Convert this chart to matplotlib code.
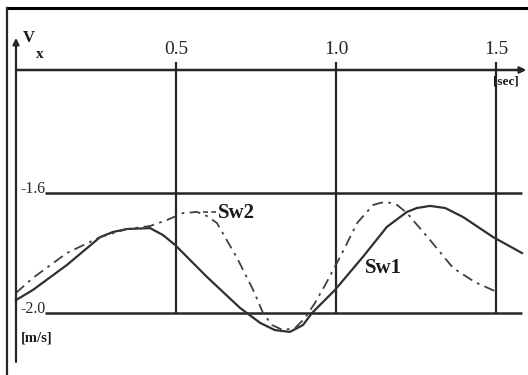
import matplotlib
matplotlib.use("Agg")
import matplotlib.pyplot as plt
from matplotlib.lines import Line2D

# ---- data ----
t_sw1 = [0.0, 0.053, 0.159, 0.263, 0.303, 0.347, 0.419, 0.459, 0.497, 0.597,
         0.700, 0.763, 0.809, 0.856, 0.897, 0.925, 0.997, 1.084, 1.159, 1.222,
         1.253, 1.294, 1.341, 1.397, 1.491, 1.581]
v_sw1 = [-1.957, -1.923, -1.840, -1.747, -1.730, -1.720, -1.717, -1.740, -1.773, -1.880,
         -1.983, -2.033, -2.057, -2.063, -2.040, -2.000, -1.923, -1.813, -1.713, -1.663,
         -1.650, -1.643, -1.650, -1.680, -1.747, -1.800]

t_sw2 = [0.0, 0.053, 0.159, 0.263, 0.347, 0.419, 0.472, 0.522, 0.566, 0.597,
         0.628, 0.691, 0.741, 0.772, 0.800, 0.834, 0.872, 0.903, 0.934, 0.966,
         1.013, 1.066, 1.116, 1.138, 1.159, 1.191, 1.222, 1.294, 1.366, 1.434,
         1.503]
v_sw2 = [-1.933, -1.883, -1.800, -1.747, -1.720, -1.710, -1.690, -1.667, -1.663, -1.677,
         -1.700, -1.817, -1.923, -2.000, -2.040, -2.057, -2.050, -2.017, -1.967, -1.907,
         -1.813, -1.700, -1.640, -1.633, -1.630, -1.640, -1.667, -1.757, -1.850, -1.897,
         -1.930]

x_ticks = [0.5, 1.0, 1.5]
x_tick_labels = ["0.5", "1.0", "1.5"]
y_levels = [-1.6, -2.0]
y_level_labels = ["-1.6", "-2.0"]
axis_level = -1.19

ink = "#262626"
serif = ["Liberation Serif", "DejaVu Serif"]

fig = plt.figure(figsize=(5.28, 3.75), dpi=100)
ax = fig.add_axes([0, 0, 1, 1])
ax.set_xlim(-0.05, 1.6)
ax.set_ylim(-2.20667, -0.95667)
ax.axis("off")

# frame lines (scan border)
fig.add_artist(Line2D([7/528, 1.0], [1 - 8/375, 1 - 8/375], color="black", lw=2.2))
fig.add_artist(Line2D([7/528, 7/528], [0.0, 1 - 8/375], color=ink, lw=1.6))

# vertical axis with arrow
ax.annotate("", xy=(0, -1.083), xytext=(0, -2.163),
            arrowprops=dict(arrowstyle="-|>", lw=1.6, color=ink,
                            mutation_scale=9, shrinkA=0, shrinkB=0))
# time axis at the top with arrow
ax.annotate("", xy=(1.595, axis_level), xytext=(0, axis_level),
            arrowprops=dict(arrowstyle="-|>", lw=1.8, color=ink,
                            mutation_scale=9, shrinkA=0, shrinkB=0))

# horizontal level lines
for lv, lab in zip(y_levels, y_level_labels):
    ax.plot([0.09, 1.58], [lv, lv], color=ink, lw=1.8, solid_capstyle="butt")
    ax.text(0.054, lv + 0.012, lab, ha="center", va="center",
            fontsize=11.5, family=serif, color=ink)

# vertical grid lines and tick labels
for xt, lab in zip(x_ticks, x_tick_labels):
    ax.plot([xt, xt], [y_levels[1], axis_level + 0.025], color=ink, lw=1.6,
            solid_capstyle="butt")
    ax.annotate(lab, xy=(xt, axis_level), xytext=(0, 15), textcoords="offset points",
                ha="center", va="center", fontsize=14, family=serif, color=ink)

# curves
ax.plot(t_sw1, v_sw1, color="#303030", lw=1.6)
ax.plot(t_sw2, v_sw2, color="#404040", lw=1.3, dashes=(6, 3, 1.5, 3))

# curve labels
ax.text(0.69, -1.667, "Sw2", ha="center", va="center", fontsize=15,
        fontweight="bold", family=serif, color="#1a1a1a")
ax.plot([0.585, 0.625], [-1.665, -1.665], color="#404040", lw=1.2, dashes=(3, 2))
ax.text(1.147, -1.85, "Sw1", ha="center", va="center", fontsize=15,
        fontweight="bold", family=serif, color="#1a1a1a")

# axis unit labels
ax.text(0.066, -2.083, "[m/s]", ha="center", va="center", fontsize=10.5,
        fontweight="bold", family=serif, color="#1a1a1a")
ax.annotate("[sec]", xy=(1.5, axis_level), xytext=(7, -8), textcoords="offset points",
            ha="center", va="center", fontsize=9.5, fontweight="bold",
            family=serif, color="#1a1a1a")
ax.text(0.041, -1.085, "V", ha="center", va="center", fontsize=12,
        fontweight="bold", family=serif, color="#1a1a1a")
ax.text(0.075, -1.14, "x", ha="center", va="center", fontsize=11,
        fontweight="bold", family=serif, color="#1a1a1a")

fig.savefig("out.png", dpi=100)
